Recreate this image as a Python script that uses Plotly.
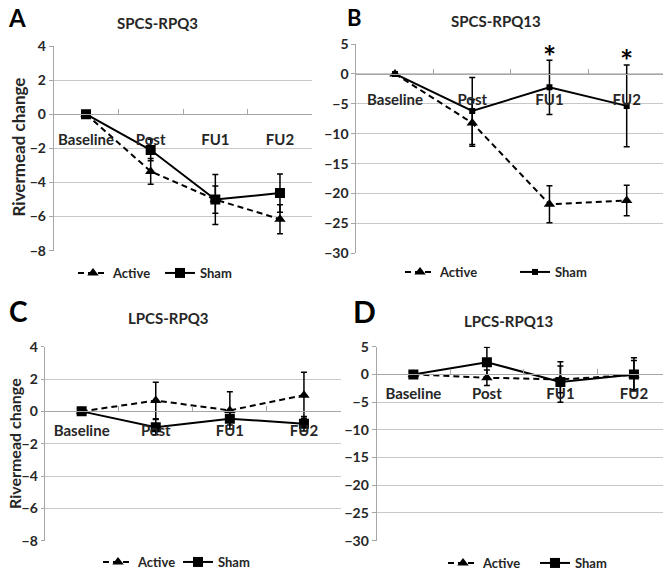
import plotly.graph_objects as go

# the page body adds an 8px margin, so the figure is drawn 8px smaller and
# reference pixel positions are shifted by that offset
OFF = 8
W, H = 671 - OFF, 571 - OFF

categories = ["Baseline", "Post", "FU1", "FU2"]

# Panel A: SPCS-RPQ3
a_active = [0, -3.35, -5.0, -6.15]
a_active_err = [0, 0.75, 0.8, 0.85]
a_sham = [0, -2.1, -5.0, -4.62]
a_sham_err = [0, 0.63, 1.47, 1.12]

# Panel B: SPCS-RPQ13
b_active = [0, -8.2, -21.8, -21.15]
b_active_err = [0, 3.9, 3.1, 2.55]
b_sham = [0, -6.2, -2.25, -5.35]
b_sham_err = [0, 5.6, 4.55, 6.85]

# Panel C: LPCS-RPQ3
c_active = [0, 0.67, 0.06, 1.0]
c_active_err = [0, 1.13, 1.15, 1.42]
c_sham = [0, -0.98, -0.45, -0.77]
c_sham_err = [0, 0.47, 0.4, 0.45]

# Panel D: LPCS-RPQ13
d_active = [0, -0.6, -0.9, -0.1]
d_active_err = [0, 1.4, 2.4, 2.6]
d_sham = [0, 2.2, -1.35, 0.0]
d_sham_err = [0, 2.7, 3.65, 3.0]

titles = ["SPCS-RPQ3", "SPCS-RPQ13", "LPCS-RPQ3", "LPCS-RPQ13"]
letters = ["A", "B", "C", "D"]
y_ranges = [(-8, 4), (-30, 5), (-8, 4), (-30, 5)]
y_dticks = [2, 5, 2, 5]
star_points = ["FU1", "FU2"]
star_y = [3.0, 2.4]
y_title = "Rivermead change"

FONT = "Lato"
TXT = "#262626"
GRID = "#c8c8c8"
AXL = "#a6a6a6"


def px(x):
    return (x - OFF) / W


def py(y):
    return 1 - (y - OFF) / H


# pixel boxes (left, right, top, bottom) for each plot area, reference pixels
boxes = [
    (53.7, 312.3, 46.0, 250.7),
    (356.4, 665.3, 44.0, 253.3),
    (44.6, 341.0, 346.7, 540.7),
    (376.6, 670.7, 346.7, 540.7),
]
label_standoff = [12, 12, 6, 6]
legend_pos = [(73, 273), (400, 272), (98, 562), (443, 563)]
legend_entry = [42, 70, 35, 47]
title_pos = [(157, 23), (496, 21), (168, 318), (508, 321)]
letter_pos = [(17, 18), (354, 17), (18, 311), (364, 311)]
letter_size = [24, 22, 28, 30]
sham_size = [10, 6, 10, 10]
ytitle_pos = [(18.5, 147, 17), (14, 444, 16)]
ytick_len = [4, 4, 3, 4]

panels = [
    (a_active, a_active_err, a_sham, a_sham_err),
    (b_active, b_active_err, b_sham, b_sham_err),
    (c_active, c_active_err, c_sham, c_sham_err),
    (d_active, d_active_err, d_sham, d_sham_err),
]

fig = go.Figure()
layout = dict(
    template="none",
    width=W, height=H,
    margin=dict(l=0, r=0, t=0, b=0, pad=0, autoexpand=False),
    paper_bgcolor="white", plot_bgcolor="white",
    font=dict(family=FONT, color=TXT, size=13),
    annotations=[],
)

for i, (act, act_e, sh, sh_e) in enumerate(panels):
    n = i + 1
    sfx = "" if n == 1 else str(n)
    xa, ya = "x" + sfx, "y" + sfx
    leg = "legend" + sfx
    l, r, t, b = boxes[i]
    ymin, ymax = y_ranges[i]
    yd0, yd1 = py(b), py(t)
    zero_pos = yd0 + (0 - ymin) / (ymax - ymin) * (yd1 - yd0)

    fig.add_trace(go.Scatter(
        x=categories, y=act, xaxis=xa, yaxis=ya, name="Active", legend=leg,
        mode="lines+markers",
        line=dict(color="black", width=2, dash="6px,4px"),
        marker=dict(symbol="triangle-up", size=10, color="black"),
        error_y=dict(type="data", array=act_e, color="black", thickness=1.5, width=3),
    ))
    fig.add_trace(go.Scatter(
        x=categories, y=sh, xaxis=xa, yaxis=ya, name="Sham", legend=leg,
        mode="lines+markers",
        line=dict(color="black", width=2),
        marker=dict(symbol="square", size=sham_size[i], color="black"),
        error_y=dict(type="data", array=sh_e, color="black", thickness=1.5, width=3),
    ))

    layout["xaxis" + sfx] = dict(
        domain=[px(l), px(r)], anchor="free", position=zero_pos,
        type="category", categoryorder="array", categoryarray=categories,
        range=[-0.5, 3.5], showgrid=False, zeroline=False, automargin=False,
        showline=True, linecolor=AXL, linewidth=1,
        ticks="inside", tickson="boundaries", ticklen=5, tickcolor=AXL,
        tickangle=0,
        tickfont=dict(family=FONT, size=15, color=TXT, weight="bold"),
        ticklabelstandoff=label_standoff[i], fixedrange=True,
    )
    layout["yaxis" + sfx] = dict(
        domain=[yd0, yd1], anchor=xa, range=[ymin, ymax], dtick=y_dticks[i],
        showgrid=True, gridcolor=GRID, gridwidth=1, zeroline=False,
        automargin=False,
        showline=True, linecolor=AXL, linewidth=1,
        ticks="outside", ticklen=ytick_len[i], tickcolor=AXL,
        tickfont=dict(family=FONT, size=14, color=TXT, weight="bold"),
        fixedrange=True,
    )
    lx, ly = legend_pos[i]
    layout[leg] = dict(
        x=px(lx), y=py(ly), xanchor="left", yanchor="middle",
        orientation="h", bgcolor="rgba(0,0,0,0)", itemwidth=30,
        entrywidth=legend_entry[i], entrywidthmode="pixels",
        font=dict(family=FONT, size=13, color=TXT, weight="bold"),
        tracegroupgap=0,
    )
    tx, ty = title_pos[i]
    layout["annotations"].append(dict(
        x=px(tx), y=py(ty), xref="paper", yref="paper", showarrow=False,
        text=titles[i], xanchor="center", yanchor="middle",
        font=dict(family=FONT, size=15, color=TXT, weight="bold"),
    ))
    gx, gy = letter_pos[i]
    layout["annotations"].append(dict(
        x=px(gx), y=py(gy), xref="paper", yref="paper", showarrow=False,
        text=letters[i], xanchor="center", yanchor="middle", borderpad=0,
        font=dict(family=FONT, size=letter_size[i], color="black", weight="bold"),
    ))

for cat, yv in zip(star_points, star_y):
    layout["annotations"].append(dict(
        x=cat, y=yv, xref="x2", yref="y2", showarrow=False, text="*",
        xanchor="center", yanchor="middle",
        font=dict(family=FONT, size=31, color="black", weight="bold"),
    ))

for xc, yc, fs in ytitle_pos:
    layout["annotations"].append(dict(
        x=px(xc), y=py(yc), xref="paper", yref="paper", showarrow=False,
        text=y_title, textangle=-90, xanchor="center", yanchor="middle",
        borderpad=0,
        font=dict(family=FONT, size=fs, color=TXT, weight="bold"),
    ))

fig.update_layout(**layout)
fig.update_layout(showlegend=True)
fig.write_html("out.html")
